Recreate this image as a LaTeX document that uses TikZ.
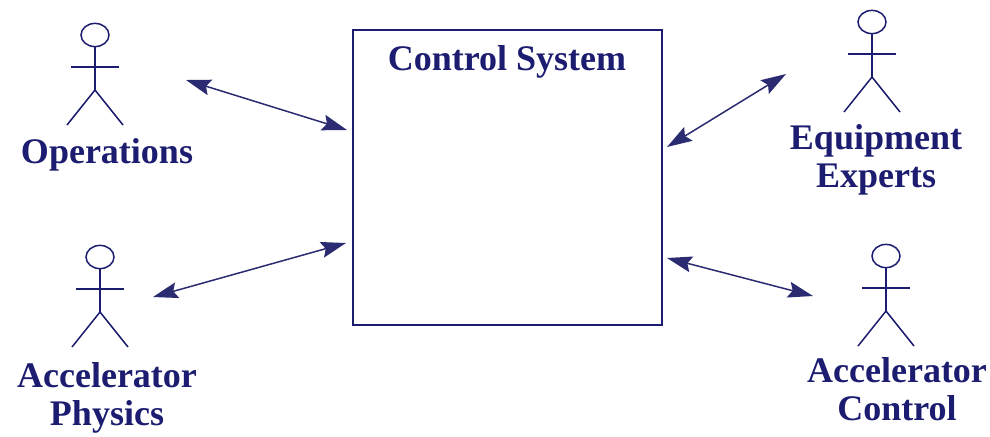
\documentclass[tikz,border=0pt]{standalone}
\usepackage{fontspec}
\setmainfont{Liberation Serif}
\usetikzlibrary{arrows.meta}
\definecolor{navy}{RGB}{28,28,112}
\tikzstyle{sysbox}=[draw = navy, line width = 1pt, minimum width = 154.5pt, minimum height = 147.5pt, inner sep = 0pt]
\tikzstyle{actorLabel}=[text = navy, font = \bfseries\fontsize{18}{19}\selectfont, align = center, inner sep = 0pt, anchor = base]

\begin{document}
\begin{tikzpicture}[x = 0.5pt, y = -0.5pt]
\tikzstyle{limb}=[draw = navy, line width = 0.75pt]
\tikzstyle{link}=[draw = navy!85!gray, line width = 0.75pt, {Stealth[length = 12.5pt, width = 8pt, inset = 2pt]}-{Stealth[length = 12.5pt, width = 8pt, inset = 2pt]}]
\useasboundingbox (0,0) rectangle (990,436);
% system box
\node[sysbox] (sys) at (507.5,177.5) {};
\node[actorLabel, anchor = center] (title) at (507,62) {Control System};
% actors: head centre x, y
\foreach \hx/\hy in {95/35, 100/257, 872/22, 886/256}{
  \draw[limb] (\hx,\hy) ellipse (7pt and 5.8pt);
  \draw[limb] (\hx,\hy+11.6) -- (\hx,\hy+55);
  \draw[limb] (\hx-24,\hy+32) -- (\hx+24,\hy+32);
  \draw[limb] (\hx-28,\hy+90) -- (\hx,\hy+55) -- (\hx+28,\hy+90);
}
% labels (base = last line)
\node[actorLabel] (ops) at (107,163) {Operations};
\node[actorLabel] (phys) at (107,425) {Accelerator\\Physics};
\node[actorLabel] (equip) at (876,187) {Equipment\\Experts};
\node[actorLabel] (ctrl) at (897,420) {Accelerator\\Control};
% arrow ends
\coordinate (opsOut) at (186,80);
\coordinate (opsIn) at (347,130);
\coordinate (physOut) at (153,297);
\coordinate (physIn) at (346,243);
\coordinate (equipOut) at (786,74);
\coordinate (equipIn) at (667,147);
\coordinate (ctrlOut) at (813,296);
\coordinate (ctrlIn) at (667,258);
\draw[link] (opsOut) -- (opsIn);
\draw[link] (physOut) -- (physIn);
\draw[link] (equipIn) -- (equipOut);
\draw[link] (ctrlIn) -- (ctrlOut);
\end{tikzpicture}
\end{document}
